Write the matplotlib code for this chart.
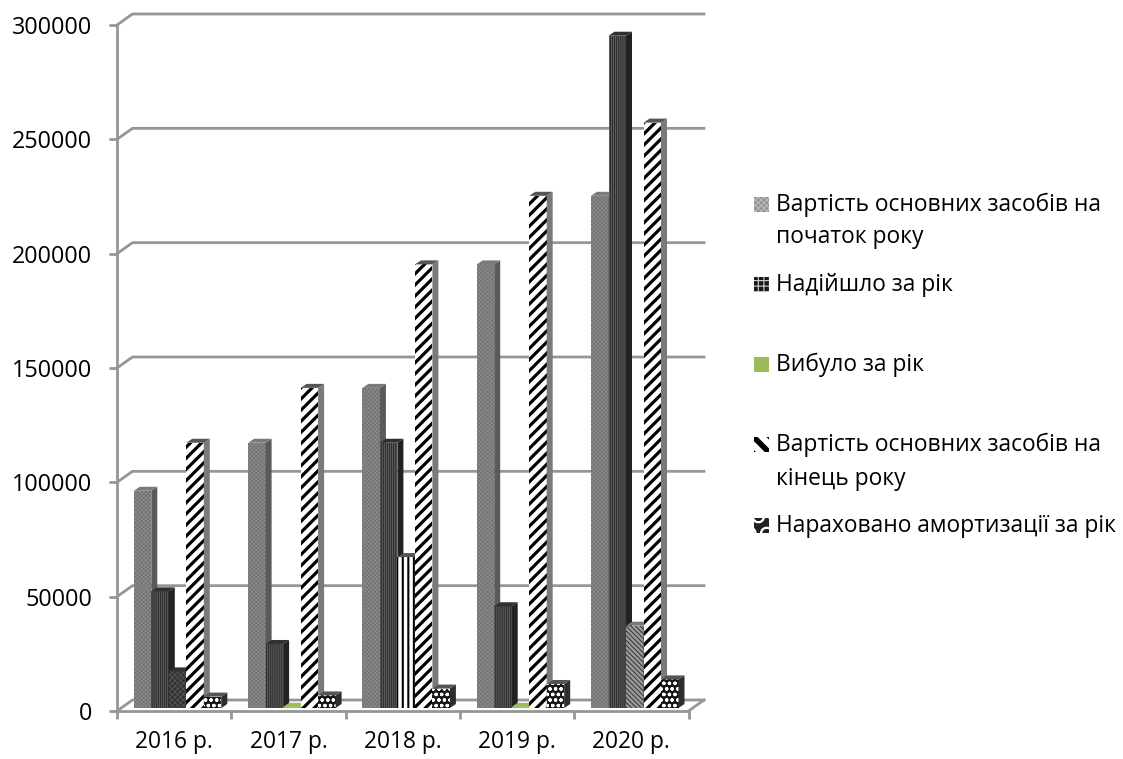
import numpy as np
import matplotlib
matplotlib.use("Agg")
import matplotlib.pyplot as plt
from matplotlib.patches import Rectangle

plt.rcParams['font.family'] = ['Open Sans', 'DejaVu Sans']

years = ["2016 р.", "2017 р.", "2018 р.", "2019 р.", "2020 р."]
start_cost = [95000, 116000, 140000, 194000, 224000]
received = [51000, 28000, 116000, 44500, 294000]
retired = [16000, 500, 66000, 500, 36000]
end_cost = [116000, 140000, 194000, 224000, 256000]
amort = [5000, 5500, 8500, 10500, 12500]
yticks = [0, 50000, 100000, 150000, 200000, 250000, 300000]

W, H = 1123, 759
GRID = "#969696"

fig = plt.figure(figsize=(W / 100, H / 100), dpi=100)
ax = fig.add_axes([117 / W, (H - 711) / H, (688.5 - 117) / W, 686 / H])
ax.set_xlim(0, 5)
ax.set_ylim(0, 300000)

# pixel sizes -> data units
px_x = 5 / (688.5 - 117)
px_y = 300000 / 686

# back wall and floor
deep_x, deep_y = 15.5 * px_x, 11 * px_y
for v in yticks:
    ax.plot([0, deep_x, 5 + deep_x], [v, v + deep_y, v + deep_y], color=GRID, lw=2,
            clip_on=False, zorder=1, solid_joinstyle='miter')
ax.plot([5, 5 + deep_x], [0, deep_y], color=GRID, lw=2, clip_on=False, zorder=1)

bar_w = 17.5 * px_x
side_x, side_y = 6 * px_x, 4 * px_y
base = 3 * px_y
first = 16.8 * px_x


def draw_bar(x, val, face, hatch, hcolor, lw, side, top):
    b = ax.bar(x, val, bar_w, bottom=base, align='edge', facecolor=face, hatch=hatch,
               edgecolor=hcolor, linewidth=0, clip_on=False, zorder=3)[0]
    b.set_hatch_linewidth(lw)
    r, t = x + bar_w, base + val
    ax.fill([r, r + side_x, r + side_x, r], [base, base + side_y, t + side_y, t],
            color=side, lw=0, clip_on=False, zorder=3)
    ax.fill([x, x + side_x, r + side_x, r], [t, t + side_y, t + side_y, t],
            color=top, lw=0, clip_on=False, zorder=3)


gray_style = ("#8a8a8a", "xxxxxxxx", "#707070", 0.5, "#5a5a5a", "#7a7a7a")
dark_style = ("#2e2e2e", "||||||||", "#666666", 0.6, "#222222", "#303030")
stripe_style = ("white", "///", "black", 2.3, "#7a7a7a", "#555555")
dots_style = ("#161616", "ooo", "white", 0.9, "#2e2e2e", "#555555")
third_styles = [
    ("#333333", "xxxxxx", "#5a5a5a", 0.5, "#262626", "#303030"),
    ("#9bbb59", "", "#9bbb59", 0.5, "#9bbb59", "#9bbb59"),
    ("white", "|||", "black", 1.5, "#777777", "#555555"),
    ("#9bbb59", "", "#9bbb59", 0.5, "#9bbb59", "#9bbb59"),
    ("#9a9a9a", "\\\\\\\\\\\\\\", "#333333", 0.7, "#4a4a4a", "#777777"),
]

for i in range(5):
    x0 = i + first
    draw_bar(x0, start_cost[i], *gray_style)
    draw_bar(x0 + bar_w, received[i], *dark_style)
    draw_bar(x0 + 2 * bar_w, retired[i], *third_styles[i])
    draw_bar(x0 + 3 * bar_w, end_cost[i], *stripe_style)
    draw_bar(x0 + 4 * bar_w, amort[i], *dots_style)

# axes
for s in ['top', 'right']:
    ax.spines[s].set_visible(False)
for s in ['left', 'bottom']:
    ax.spines[s].set_color(GRID)
    ax.spines[s].set_linewidth(2)
    ax.spines[s].set_zorder(2)
ax.set_yticks(yticks)
ax.set_xticks(range(6))
ax.set_xticks(np.arange(5) + 0.5, labels=years, minor=True)
ax.set_xticklabels([])
ax.tick_params(axis='x', which='major', length=6, width=2, color=GRID)
ax.tick_params(axis='x', which='minor', length=0, labelsize=16.4, pad=14)
ax.tick_params(axis='y', length=6, width=2, color=GRID, labelsize=16.8, pad=12)

# legend, placed by hand; keys have their own patterns
key_gray = ("#8f8f8f", "xxxxxx", "#bbbbbb", 0.8)
key_dark = ("#1a1a1a", "+++", "#cccccc", 0.8)
key_green = ("#9bbb59", "", "#9bbb59", 0.5)
key_stripe = ("white", "\\\\", "black", 4)
key_dots = ("#222222", "O", "white", 1.2)
legend_rows = [
    ("Вартість основних засобів на\nпочаток року", 197, key_gray, 1.42),
    ("Надійшло за рік", 277, key_dark, 1.4),
    ("Вибуло за рік", 357, key_green, 1.4),
    ("Вартість основних засобів на\nкінець року", 437, key_stripe, 1.55),
    ("Нараховано амортизації за рік", 518, key_dots, 1.4),
]
for label, y, st, spacing in legend_rows:
    k = Rectangle((754 / W, 1 - (y + 15) / H), 15 / W, 15 / H, transform=fig.transFigure,
                  facecolor=st[0], hatch=st[1], edgecolor=st[2], linewidth=0)
    k.set_hatch_linewidth(st[3])
    fig.add_artist(k)
    fig.text(776 / W, 1 - (y - 4) / H, label, fontsize=16.4, va='top', ha='left',
             linespacing=spacing, color='black')

fig.savefig("out.png", dpi=100)
